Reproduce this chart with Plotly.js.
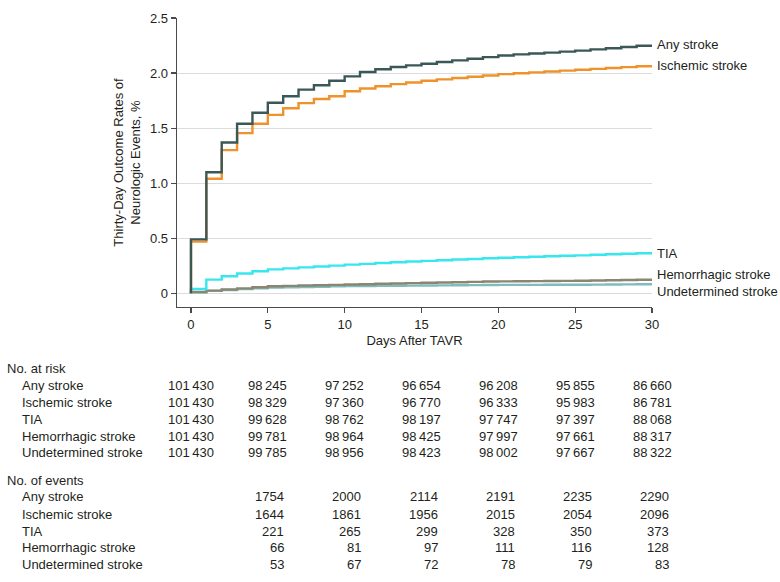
<!DOCTYPE html>
<html>
<head>
<meta charset="utf-8">
<script src="https://cdn.plot.ly/plotly-3.0.1.min.js"></script>
<style>
  html, body { margin: 0; padding: 0; background: #ffffff; }
  #chart { width: 780px; height: 582px; }
</style>
</head>
<body>
<div id="chart"></div>
<script>
// ---- Data ----
var days = [0, 0, 1, 2, 3, 4, 5, 6, 7, 8, 9, 10, 11, 12, 13, 14, 15, 16, 17, 18, 19, 20, 21, 22, 23, 24, 25, 26, 27, 28, 29, 30];

var anyStroke = [0, 0.49, 1.10, 1.37, 1.54, 1.64, 1.73, 1.79, 1.85, 1.89, 1.93, 1.97, 2.01, 2.035, 2.055, 2.07, 2.085, 2.10, 2.115, 2.13, 2.145, 2.16, 2.17, 2.178, 2.186, 2.195, 2.204, 2.215, 2.225, 2.237, 2.248, 2.258];
var ischemicStroke = [0, 0.47, 1.04, 1.30, 1.455, 1.54, 1.62, 1.68, 1.727, 1.764, 1.79, 1.835, 1.86, 1.88, 1.90, 1.915, 1.93, 1.943, 1.955, 1.967, 1.978, 1.99, 1.998, 2.006, 2.014, 2.022, 2.03, 2.038, 2.046, 2.054, 2.062, 2.07];
var tia = [0, 0.04, 0.125, 0.155, 0.18, 0.20, 0.218, 0.227, 0.236, 0.244, 0.252, 0.261, 0.268, 0.275, 0.282, 0.289, 0.295, 0.301, 0.307, 0.312, 0.318, 0.323, 0.328, 0.332, 0.337, 0.341, 0.345, 0.35, 0.355, 0.359, 0.364, 0.368];
var hemorrhagicStroke = [0, 0.012, 0.025, 0.035, 0.045, 0.055, 0.065, 0.068, 0.071, 0.074, 0.077, 0.080, 0.083, 0.087, 0.090, 0.093, 0.096, 0.099, 0.101, 0.104, 0.107, 0.109, 0.110, 0.111, 0.112, 0.113, 0.114, 0.117, 0.119, 0.121, 0.124, 0.126];
var undeterminedStroke = [0, 0.01, 0.022, 0.03, 0.038, 0.045, 0.052, 0.055, 0.058, 0.060, 0.063, 0.066, 0.067, 0.068, 0.069, 0.070, 0.071, 0.072, 0.073, 0.075, 0.076, 0.077, 0.077, 0.077, 0.078, 0.078, 0.078, 0.079, 0.080, 0.081, 0.082, 0.082];

var seriesNames = ["Any stroke", "Ischemic stroke", "TIA", "Hemorrhagic stroke", "Undetermined stroke"];

var tableDays = [0, 5, 10, 15, 20, 25, 30];
var atRiskAny = ["101\u2009430", "98\u2009245", "97\u2009252", "96\u2009654", "96\u2009208", "95\u2009855", "86\u2009660"];
var atRiskIschemic = ["101\u2009430", "98\u2009329", "97\u2009360", "96\u2009770", "96\u2009333", "95\u2009983", "86\u2009781"];
var atRiskTIA = ["101\u2009430", "99\u2009628", "98\u2009762", "98\u2009197", "97\u2009747", "97\u2009397", "88\u2009068"];
var atRiskHemorrhagic = ["101\u2009430", "99\u2009781", "98\u2009964", "98\u2009425", "97\u2009997", "97\u2009661", "88\u2009317"];
var atRiskUndetermined = ["101\u2009430", "99\u2009785", "98\u2009956", "98\u2009423", "98\u2009002", "97\u2009667", "88\u2009322"];

var eventDays = [5, 10, 15, 20, 25, 30];
var eventsAny = ["1754", "2000", "2114", "2191", "2235", "2290"];
var eventsIschemic = ["1644", "1861", "1956", "2015", "2054", "2096"];
var eventsTIA = ["221", "265", "299", "328", "350", "373"];
var eventsHemorrhagic = ["66", "81", "97", "111", "116", "128"];
var eventsUndetermined = ["53", "67", "72", "78", "79", "83"];

var yTickVals = [0, 0.5, 1.0, 1.5, 2.0, 2.5];
var yTickText = ["0", "0.5", "1.0", "1.5", "2.0", "2.5"];
var xTickVals = [0, 5, 10, 15, 20, 25, 30];

// ---- Styling ----
var FONT = "Liberation Sans, Arial, sans-serif";
var FS = 13;
var TXT = "#231f20";
var colors = ["#3b5858", "#f0922b", "#38e6ee", "#8b8672", "#7fbcbc"];

var W = 780, H = 582;
var M = {l: 177, r: 128, t: 18, b: 275};
var plotW = W - M.l - M.r, plotH = H - M.t - M.b;
function px2paperX(px) { return (px - M.l) / plotW; }
function px2paperY(py) { return (H - M.b - py) / plotH; }

var seriesY = [anyStroke, ischemicStroke, tia, hemorrhagicStroke, undeterminedStroke];
var traces = [];
var order = [4, 3, 2, 1, 0];
order.forEach(function (i) {
  traces.push({
    x: days, y: seriesY[i], type: "scatter", mode: "lines",
    line: {shape: "hv", color: colors[i], width: 2.4},
    name: seriesNames[i], hoverinfo: "skip", showlegend: false, cliponaxis: false
  });
});

var annotations = [];
var labelY = [2.26, 2.07, 0.36, 0.17, 0.015];
seriesNames.forEach(function (n, i) {
  annotations.push({
    text: n, x: 30, y: labelY[i], xref: "x", yref: "y", xanchor: "left", yanchor: "middle",
    xshift: 3, showarrow: false, font: {family: FONT, size: FS, color: TXT}
  });
});

function addText(txt, px, py, anchor) {
  annotations.push({
    text: txt, x: px2paperX(px), y: px2paperY(py), xref: "paper", yref: "paper",
    xanchor: anchor || "left", yanchor: "middle", showarrow: false,
    font: {family: FONT, size: FS, color: TXT}
  });
}

addText("No. at risk", 5, 368);
var riskRows = [atRiskAny, atRiskIschemic, atRiskTIA, atRiskHemorrhagic, atRiskUndetermined];
var riskY = [385, 402, 419, 436, 452];
riskRows.forEach(function (row, r) {
  addText(seriesNames[r], 20, riskY[r]);
  row.forEach(function (v, c) {
    annotations.push({
      text: v, x: tableDays[c], y: px2paperY(riskY[r]), xref: "x", yref: "paper",
      xanchor: "center", yanchor: "middle", showarrow: false,
      font: {family: FONT, size: FS, color: TXT}
    });
  });
});

addText("No. of events", 5, 480);
var eventRows = [eventsAny, eventsIschemic, eventsTIA, eventsHemorrhagic, eventsUndetermined];
var eventY = [497, 514, 531, 547, 564];
eventRows.forEach(function (row, r) {
  addText(seriesNames[r], 20, eventY[r]);
  row.forEach(function (v, c) {
    annotations.push({
      text: v, x: eventDays[c], y: px2paperY(eventY[r]), xref: "x", yref: "paper",
      xanchor: "right", yanchor: "middle", xshift: 18.5, showarrow: false,
      font: {family: FONT, size: FS, color: TXT}
    });
  });
});

var layout = {
  width: W, height: H,
  margin: M,
  paper_bgcolor: "#ffffff", plot_bgcolor: "#ffffff",
  showlegend: false,
  font: {family: FONT, size: FS, color: TXT},
  xaxis: {
    range: [-0.91, 30], tickvals: xTickVals, ticks: "outside", ticklen: 5, tickwidth: 1.2,
    tickcolor: "#4a4a4a", showline: true, linecolor: "#4a4a4a", linewidth: 1.3,
    showgrid: false, zeroline: false, fixedrange: true,
    tickfont: {family: FONT, size: FS, color: TXT},
    title: {text: "Days After TAVR", font: {family: FONT, size: FS, color: TXT}, standoff: 5}
  },
  yaxis: {
    range: [-0.124, 2.5], tickvals: yTickVals, ticktext: yTickText, ticks: "outside", ticklen: 5,
    tickwidth: 1.2, tickcolor: "#4a4a4a", showline: true, linecolor: "#4a4a4a", linewidth: 1.3,
    showgrid: true, gridcolor: "#dcdcdc", gridwidth: 1, zeroline: false, fixedrange: true,
    tickfont: {family: FONT, size: FS, color: TXT},
    title: {text: "Thirty-Day Outcome Rates of<br>Neurologic Events, %", font: {family: FONT, size: FS, color: TXT}, standoff: 6}
  },
  annotations: annotations
};

Plotly.newPlot("chart", traces, layout, {displayModeBar: false, staticPlot: true});
</script>
</body>
</html>
